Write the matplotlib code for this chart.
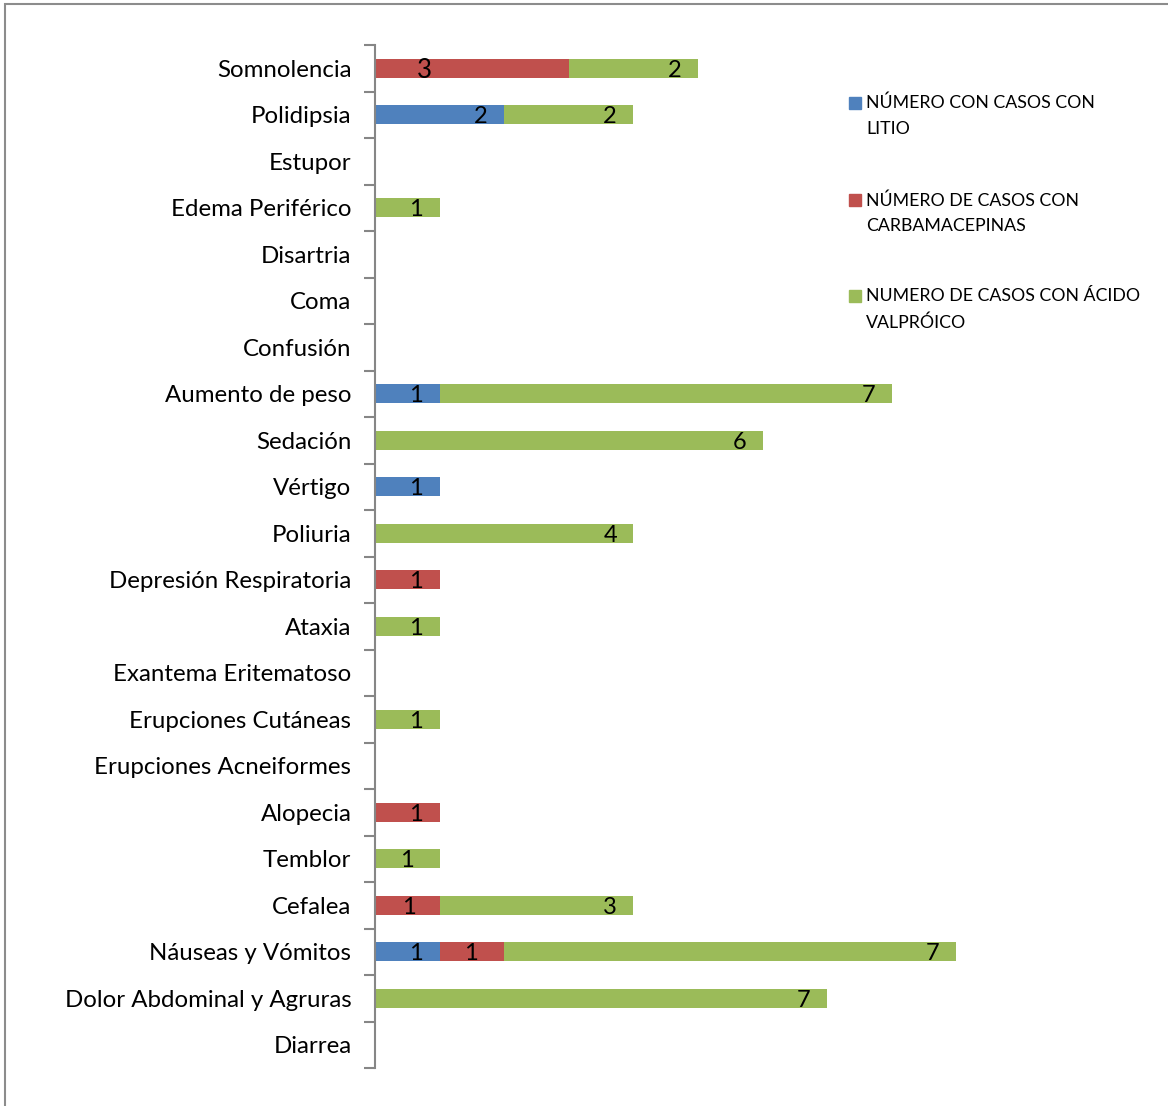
import matplotlib
matplotlib.use("Agg")
import matplotlib.pyplot as plt
from matplotlib.patches import Rectangle
import numpy as np

plt.rcParams['font.family'] = ['Lato', 'DejaVu Sans']

categories = ["Somnolencia", "Polidipsia", "Estupor", "Edema Periférico", "Disartria",
              "Coma", "Confusión", "Aumento de peso", "Sedación", "Vértigo", "Poliuria",
              "Depresión Respiratoria", "Ataxia", "Exantema Eritematoso",
              "Erupciones Cutáneas", "Erupciones Acneiformes", "Alopecia", "Temblor",
              "Cefalea", "Náuseas y Vómitos", "Dolor Abdominal y Agruras", "Diarrea"]
litio = [0, 2, 0, 0, 0, 0, 0, 1, 0, 1, 0, 0, 0, 0, 0, 0, 0, 0, 0, 1, 0, 0]
carbamacepinas = [3, 0, 0, 0, 0, 0, 0, 0, 0, 0, 0, 1, 0, 0, 0, 0, 1, 0, 1, 1, 0, 0]
valproico = [2, 2, 0, 1, 0, 0, 0, 7, 6, 0, 4, 0, 1, 0, 1, 0, 0, 1, 3, 7, 7, 0]
series_names = ["NÚMERO CON CASOS CON\nLITIO",
                "NÚMERO DE CASOS CON\nCARBAMACEPINAS",
                "NUMERO DE CASOS CON ÁCIDO\nVALPRÓICO"]
colors = ["#4F81BD", "#C0504D", "#9BBB59"]

# data-label inset from segment end (data units); exceptions keyed (row, series)
label_inset_default = 0.36
label_inset_special = {(0, 1): 2.24, (17, 2): 0.50, (18, 1): 0.47, (19, 1): 0.51}

W, H = 1168, 1106
fig = plt.figure(figsize=(W / 100, H / 100), dpi=100)
ax = fig.add_axes([375 / W, 1 - 1068 / H, (1150 - 375) / W, (1068 - 45) / H])

y = np.arange(len(categories))
left = np.zeros(len(categories))
for si, (vals, col) in enumerate(zip([litio, carbamacepinas, valproico], colors)):
    vals = np.array(vals, dtype=float)
    ax.barh(y, vals, left=left, height=0.4, color=col, edgecolor="none")
    for yi, (l, v) in enumerate(zip(left, vals)):
        if v > 0:
            inset = label_inset_special.get((yi, si), label_inset_default)
            ax.text(l + v - inset, yi + 0.04, f"{int(v)}", ha="center", va="center",
                    fontsize=17 if (yi, si) != (0, 1) else 18.5, color="black")
    left = left + vals

ax.set_xlim(0, 12)
ax.set_ylim(len(categories) - 0.5, -0.5)
ax.set_yticks(y)
ax.set_yticklabels(categories, fontsize=17.3)
ax.set_yticks(np.arange(-0.5, len(categories)), minor=True)
ax.tick_params(axis="y", which="major", length=0, pad=17)
ax.tick_params(axis="y", which="minor", length=8, width=1.5, color="#868686")
ax.xaxis.set_visible(False)
for s in ["top", "right", "bottom"]:
    ax.spines[s].set_visible(False)
ax.spines["left"].set_color("#868686")
ax.spines["left"].set_linewidth(1.5)

# legend (drawn manually, marker aligned with first line)
leg_y = [103, 200, 296]
for name, col, yy in zip(series_names, colors, leg_y):
    fig.patches.append(Rectangle((849 / W, 1 - (yy + 6) / H), 12 / W, 12 / H,
                                 transform=fig.transFigure, color=col))
    fig.text(866 / W, 1 - (yy - 8) / H, name, fontsize=12.8, va="top", ha="left",
             linespacing=1.75)

# chart border
fig.patches.append(Rectangle((5 / W, -0.01), 1.02, 1 - 4 / H + 0.01,
                             transform=fig.transFigure, fill=False,
                             edgecolor="#8c8c8c", linewidth=1.5))

fig.savefig("out.png", dpi=100)
